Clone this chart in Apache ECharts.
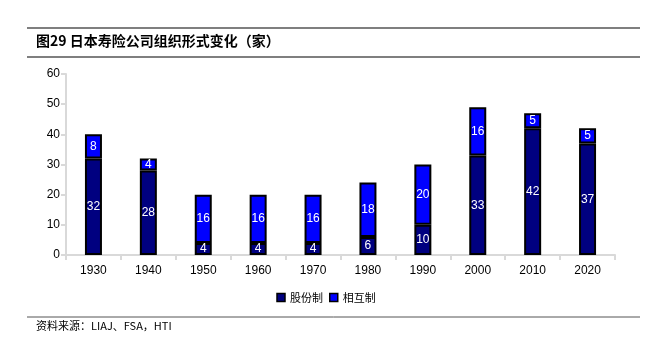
<!DOCTYPE html>
<html><head><meta charset="utf-8">
<script src="https://cdn.jsdelivr.net/npm/echarts@6/dist/echarts.min.js"></script>
<style>html,body{margin:0;padding:0;background:#fff}#c{width:652px;height:338px}</style>
</head><body><div id="c"></div>
<script>
const categories = ['1930','1940','1950','1960','1970','1980','1990','2000','2010','2020'];
const joint = [32,28,4,4,4,6,10,33,42,37];
const mutual = [8,4,16,16,16,18,20,16,5,5];
const seriesNames = ['股份制','相互制'];
const yTicks = [0,10,20,30,40,50,60];

const chart = echarts.init(document.getElementById('c'));
const lbl = {show:true, position:'inside', color:'#fff', fontFamily:'Liberation Sans, Arial', fontSize:12};
chart.setOption({
  animation:false,
  grid:{left:66, right:37, top:74, bottom:83},
  xAxis:{type:'category', data:categories,
    axisLine:{lineStyle:{color:'#d9d9d9', width:2}},
    axisTick:{show:true, length:5, lineStyle:{color:'#d9d9d9', width:2}},
    axisLabel:{color:'#000', fontFamily:'Liberation Sans, Arial', fontSize:12, margin:10}},
  yAxis:{type:'value', min:yTicks[0], max:yTicks[yTicks.length-1], interval:10,
    axisLine:{show:true, lineStyle:{color:'#d9d9d9', width:2}},
    axisTick:{show:true, length:5, lineStyle:{color:'#d9d9d9', width:2}},
    splitLine:{show:false},
    axisLabel:{color:'#000', fontFamily:'Liberation Sans, Arial', fontSize:12, margin:6}},
  legend:{bottom:30, left:'center', itemWidth:8, itemHeight:8, itemGap:6, icon:'rect',
    textStyle:{fontFamily:'Noto Sans CJK SC', fontSize:11, color:'#000'},
    itemStyle:{borderColor:'#000', borderWidth:1.5},
    data:seriesNames},
  series:[
    {name:seriesNames[0], type:'bar', stack:'a', data:joint, barWidth:17,
     itemStyle:{color:'#000080', borderColor:'#000', borderWidth:2}, label:lbl},
    {name:seriesNames[1], type:'bar', stack:'a', data:mutual, barWidth:17,
     itemStyle:{color:'#0000ff', borderColor:'#000', borderWidth:2}, label:lbl}
  ],
  graphic:[
    {type:'line', shape:{x1:27,y1:28,x2:640,y2:28}, style:{stroke:'#555', lineWidth:1.5}},
    {type:'text', left:36, top:34, style:{text:'图29 日本寿险公司组织形式变化（家）', fontFamily:'Noto Sans CJK SC', fontWeight:'bold', fontSize:14, fill:'#000'}},
    {type:'line', shape:{x1:27,y1:57,x2:640,y2:57}, style:{stroke:'#555', lineWidth:1.5}},
    {type:'line', shape:{x1:27,y1:317,x2:640,y2:317}, style:{stroke:'#555', lineWidth:1}},
    {type:'text', left:36, top:320, style:{text:'资料来源：LIAJ、FSA，HTI', fontFamily:'Noto Sans CJK SC', fontSize:11, fill:'#000'}}
  ]
});
</script></body></html>
